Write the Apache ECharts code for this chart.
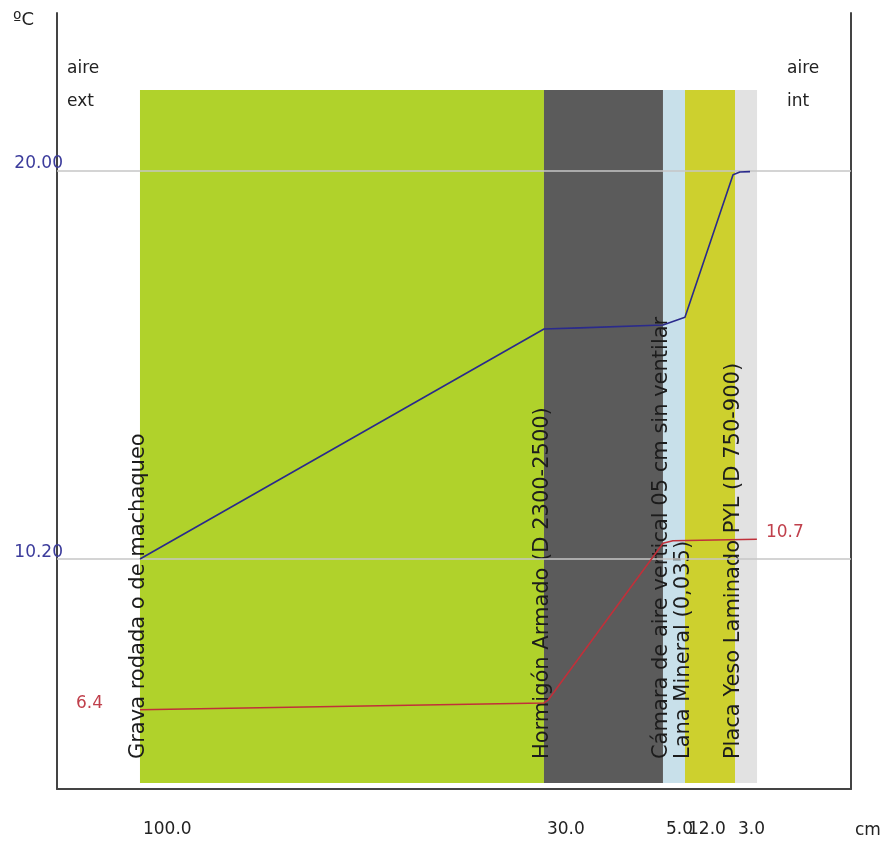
<!DOCTYPE html>
<html>
<head>
<meta charset="utf-8">
<script src="https://cdn.jsdelivr.net/npm/echarts@6/dist/echarts.min.js"></script>
<style>html,body{margin:0;padding:0;background:#fff}#c{width:880px;height:842px}</style>
</head>
<body>
<div id="c"></div>
<script>
// ---- data ----
const layerNames = [
  'Grava rodada o de machaqueo',
  'Hormigón Armado (D 2300-2500)',
  'Cámara de aire vertical 05 cm sin ventilar',
  'Lana Mineral (0,035)',
  'Placa Yeso Laminado PYL (D 750-900)'
];
const layerThickness = [100.0, 30.0, 5.0, 12.0, 3.0];        // cm (tick labels)
const layerDrawnWidth = [100, 29.46, 5.45, 12.38, 5.45];      // drawn width on the section axis
const surfaceX = [0, 100, 108.9, 129.46, 134.9, 146.8, 148.5, 151.0];
const surfaceT = [10.2, 16.0, 16.03, 16.1, 16.3, 19.89, 19.96, 19.97];
const dewX = [0, 100, 101, 129.46, 131.9, 152.7];
const dewT = [6.4, 6.57, 6.64, 10.6, 10.66, 10.7];
const refTemps = [20.0, 10.2];

// ---- derived ----
const starts = [];
let acc = 0;
layerDrawnWidth.forEach(w => { starts.push(acc); acc += w; });
const layerData = layerDrawnWidth.map((w, i) => [starts[i], starts[i] + w, i]);
const layerColors = ['#b0d22b', '#5b5b5b', '#c8e0ea', '#cdd02e', '#e2e2e2'];
const BAND_TOP = 22.03, BAND_BOTTOM = 4.55;
const FONT = 'DejaVu Sans';
const titleStyle = (size, lh) => ({fontSize: size, lineHeight: lh, fontWeight: 'normal', color: '#222', fontFamily: FONT});

const chart = echarts.init(document.getElementById('c'), null, {renderer: 'canvas'});
const lastDew = dewX.length - 1;
chart.setOption({
  animation: false,
  backgroundColor: '#fff',
  textStyle: {fontFamily: FONT},
  title: [
    {text: 'ºC', left: 13, top: 10, padding: 0, textStyle: titleStyle(18, 20)},
    {text: 'aire\next', left: 67, top: 52, padding: 0, textStyle: titleStyle(17, 33)},
    {text: 'aire\nint', left: 787, top: 52, padding: 0, textStyle: titleStyle(17, 33)},
    {text: 'cm', left: 855, top: 821, padding: 0, textStyle: titleStyle(17, 20)}
  ],
  grid: {left: 57, right: 29, top: 13, bottom: 53, containLabel: false, outerBoundsMode: 'none'},
  xAxis: {
    type: 'value', min: -20.54, max: 176.0,
    axisLine: {show: true, onZero: false, lineStyle: {color: '#444', width: 2}},
    axisTick: {show: false}, splitLine: {show: false},
    axisLabel: {
      customValues: starts,
      formatter: v => {
        let best = 0;
        starts.forEach((s, i) => { if (Math.abs(s - v) < Math.abs(starts[best] - v)) best = i; });
        return layerThickness[best].toFixed(1);
      },
      align: 'left', margin: 32, fontSize: 17, color: '#222', fontFamily: FONT, padding: [0, 0, 0, 3]
    }
  },
  yAxis: [
    {type: 'value', min: 4.40, max: 23.97, position: 'left',
     axisLine: {show: true, onZero: false, lineStyle: {color: '#444', width: 2}},
     axisTick: {show: false}, axisLabel: {show: false}, splitLine: {show: false}},
    {type: 'value', min: 4.40, max: 23.97, position: 'right',
     axisLine: {show: true, onZero: false, lineStyle: {color: '#444', width: 2}},
     axisTick: {show: false}, axisLabel: {show: false}, splitLine: {show: false}}
  ],
  series: [
    {
      type: 'custom', z: 1, silent: true,
      data: layerData,
      encode: {x: [0, 1]},
      renderItem: (params, api) => {
        const i = api.value(2);
        const p0 = api.coord([api.value(0), BAND_TOP]);
        const p1 = api.coord([api.value(1), BAND_BOTTOM]);
        return {
          type: 'group',
          children: [
            {type: 'rect', shape: {x: p0[0], y: p0[1], width: p1[0] - p0[0], height: p1[1] - p0[1]},
             style: {fill: layerColors[i]}},
            {type: 'text', x: p0[0] - 1, y: p1[1] - 24, rotation: Math.PI / 2,
             style: {text: layerNames[i], fill: '#1c1c1c', font: '21px "DejaVu Sans"', align: 'left', verticalAlign: 'middle'}}
          ]
        };
      }
    },
    {
      type: 'line', z: 5,
      data: surfaceX.map((x, i) => [x, surfaceT[i]]),
      symbol: 'none',
      lineStyle: {color: '#2a2a8c', width: 1.6},
      markLine: {
        silent: true, symbol: 'none', z: 3,
        lineStyle: {color: '#c6c6c6', width: 1.5, type: 'solid'},
        label: {position: 'start', formatter: p => Number(p.value).toFixed(2), color: '#3c3c9c', fontSize: 17, lineHeight: 13, fontFamily: FONT, distance: -6, verticalAlign: 'bottom'},
        data: refTemps.map(t => ({yAxis: t}))
      }
    },
    {
      type: 'line', z: 5,
      data: dewX.map((x, i) => {
        const item = {value: [x, dewT[i]]};
        if (i === 0) item.label = {show: true, position: 'left', distance: 37, offset: [0, -6], formatter: dewT[i].toFixed(1)};
        if (i === lastDew) item.label = {show: true, position: 'right', distance: 9, offset: [0, -7], formatter: dewT[i].toFixed(1)};
        return item;
      }),
      symbol: 'circle', symbolSize: 0.01, showSymbol: true,
      itemStyle: {color: 'rgba(0,0,0,0)'},
      label: {show: false, color: '#c0404c', fontSize: 17, fontFamily: FONT},
      lineStyle: {color: '#c0303a', width: 1.6}
    }
  ]
});
</script>
</body>
</html>
